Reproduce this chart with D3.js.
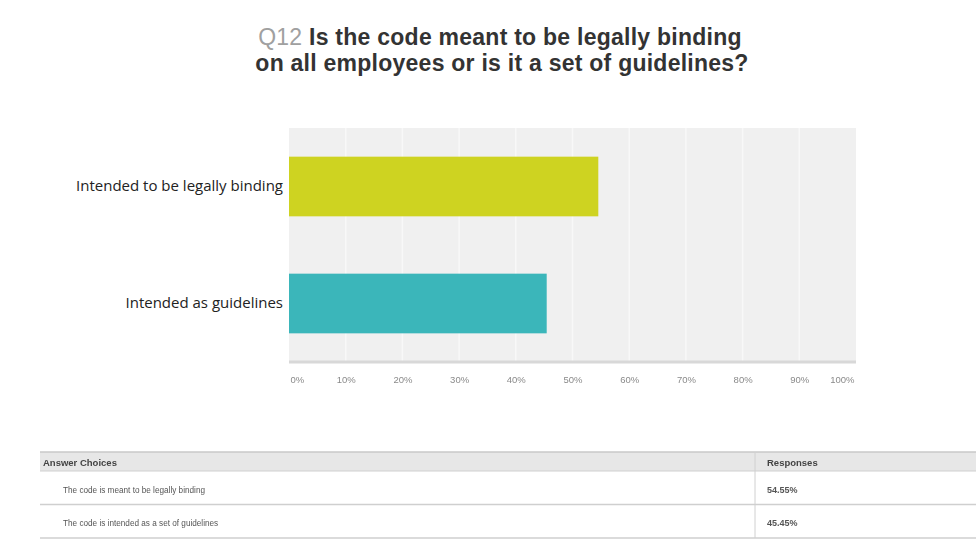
<!DOCTYPE html>
<html>
<head>
<meta charset="utf-8">
<script src="https://cdn.jsdelivr.net/npm/d3@7"></script>
<style>
  html, body { margin: 0; padding: 0; background: #fff; }
  svg { display: block; }
</style>
</head>
<body>
<svg id="chart" width="976" height="547"></svg>
<script>
// Survey question and results
const questionId = "Q12";
const titleLines = ["Is the code meant to be legally binding", "on all employees or is it a set of guidelines?"];
const categories = ["Intended to be legally binding", "Intended as guidelines"];
const values = [54.55, 45.45];
const barColors = ["#ced321", "#3bb6ba"];
const tickValues = [0, 10, 20, 30, 40, 50, 60, 70, 80, 90, 100];
const tableHeaders = ["Answer Choices", "Responses"];
const answerChoices = ["The code is meant to be legally binding", "The code is intended as a set of guidelines"];
const responseLabels = ["54.55%", "45.45%"];

const svg = d3.select("#chart");

// Soft blur for the small print
svg.append("defs").append("filter").attr("id", "soft")
  .append("feGaussianBlur").attr("stdDeviation", 0.35);

// Title
const title = svg.append("g").attr("font-family", "Liberation Sans, Arial, sans-serif")
  .attr("font-size", 23).attr("text-anchor", "middle").attr("letter-spacing", 0.25);
const t1 = title.append("text").attr("x", 500).attr("y", 45);
t1.append("tspan").attr("fill", "#a0a0a0").text(questionId + " ");
t1.append("tspan").attr("fill", "#333").attr("font-weight", "bold").text(titleLines[0]);
title.append("text").attr("x", 502).attr("y", 71).attr("fill", "#333")
  .attr("font-weight", "bold").text(titleLines[1]);

// Bar chart
const plot = { left: 289, right: 856, top: 128, bottom: 362 };
const x = d3.scaleLinear().domain([0, 100]).range([plot.left, plot.right]);
const y = d3.scaleBand().domain(categories).range([plot.top, plot.bottom])
  .paddingInner(0.49).paddingOuter(0.245);

const g = svg.append("g");
g.append("rect").attr("x", plot.left).attr("y", plot.top)
  .attr("width", plot.right - plot.left).attr("height", plot.bottom - plot.top)
  .attr("fill", "#f0f0f0");

// Vertical gridlines
g.selectAll("line.grid").data(tickValues.slice(1, -1)).join("line")
  .attr("class", "grid")
  .attr("x1", d => x(d)).attr("x2", d => x(d))
  .attr("y1", plot.top).attr("y2", plot.bottom)
  .attr("stroke", "#f8f8f8").attr("stroke-width", 1.5);

// Bars
g.selectAll("rect.bar").data(categories).join("rect")
  .attr("class", "bar")
  .attr("x", x(0))
  .attr("y", d => y(d))
  .attr("width", (d, i) => x(values[i]) - x(0))
  .attr("height", y.bandwidth())
  .attr("fill", (d, i) => barColors[i]);

// Bottom baseline
g.append("line").attr("x1", plot.left).attr("x2", plot.right)
  .attr("y1", plot.bottom).attr("y2", plot.bottom)
  .attr("stroke", "#d8d8d8").attr("stroke-width", 3);

// Category labels
const yAxis = d3.axisLeft(y).tickSize(0).tickPadding(6);
const ya = svg.append("g").attr("transform", `translate(${plot.left},0)`).call(yAxis);
ya.select(".domain").remove();
ya.selectAll("text").attr("font-family", "Open Sans, Noto Sans, sans-serif")
  .attr("font-size", 15).attr("fill", "#222");

// Percentage axis
const xAxis = d3.axisBottom(x).tickValues(tickValues).tickSize(0).tickPadding(14)
  .tickFormat(d => d + "%");
const xa = svg.append("g").attr("transform", `translate(0,${plot.bottom})`)
  .attr("filter", "url(#soft)").call(xAxis);
xa.select(".domain").remove();
xa.selectAll("text").attr("font-family", "Liberation Sans, Arial, sans-serif")
  .attr("font-size", 9.5).attr("fill", "#8a8a8a")
  .attr("text-anchor", d => d === 0 ? "start" : d === 100 ? "end" : "middle")
  .attr("dx", d => d === 0 ? 1 : d === 100 ? -2 : 0);

// Response table
const tbl = { left: 40, right: 976, colSplit: 755, top: 452, headH: 19, rowH: 33.5 };
const tg = svg.append("g").attr("font-family", "Liberation Sans, Arial, sans-serif");
tg.append("rect").attr("x", tbl.left).attr("y", tbl.top)
  .attr("width", tbl.right - tbl.left).attr("height", tbl.headH).attr("fill", "#e7e7e7");
tg.append("line").attr("x1", tbl.left).attr("x2", tbl.right)
  .attr("y1", tbl.top).attr("y2", tbl.top).attr("stroke", "#c8c8c8").attr("stroke-width", 1.5);
tg.append("line").attr("x1", tbl.left).attr("x2", tbl.right)
  .attr("y1", tbl.top + tbl.headH).attr("y2", tbl.top + tbl.headH).attr("stroke", "#cfcfcf");
tg.append("line").attr("x1", tbl.colSplit).attr("x2", tbl.colSplit)
  .attr("y1", tbl.top).attr("y2", tbl.top + tbl.headH + tbl.rowH * answerChoices.length)
  .attr("stroke", "#d0d0d0");

const tt = tg.append("g").attr("filter", "url(#soft)");
tt.selectAll("text.head").data(tableHeaders).join("text")
  .attr("class", "head")
  .attr("x", (d, i) => i === 0 ? tbl.left + 3 : tbl.colSplit + 12)
  .attr("y", tbl.top + 13.5)
  .attr("font-size", 9.5).attr("font-weight", "bold").attr("fill", "#444").text(d => d);

const rows = tg.selectAll("g.row").data(answerChoices).join("g")
  .attr("class", "row")
  .attr("transform", (d, i) => `translate(0,${tbl.top + tbl.headH + i * tbl.rowH})`);
rows.append("line").attr("x1", tbl.left).attr("x2", tbl.right)
  .attr("y1", tbl.rowH).attr("y2", tbl.rowH).attr("stroke", "#cfcfcf").attr("stroke-width", 1.5);
rows.append("text").attr("x", tbl.left + 23).attr("y", 21.5)
  .attr("filter", "url(#soft)")
  .attr("font-size", 8.2).attr("fill", "#555").text(d => d);
rows.append("text").attr("x", tbl.colSplit + 12).attr("y", 21.5)
  .attr("filter", "url(#soft)")
  .attr("font-size", 9).attr("font-weight", "bold").attr("fill", "#555")
  .text((d, i) => responseLabels[i]);
</script>
</body>
</html>
